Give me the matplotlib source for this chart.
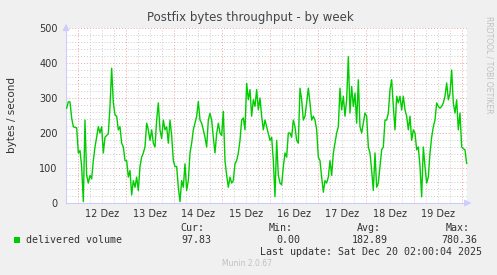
import matplotlib
matplotlib.use("Agg")
import matplotlib.pyplot as plt
import numpy as np

# delivered volume (bytes/s), one reading every 50 minutes
# first reading at Dec 11 18:20, hours counted from Dec 12 00:00
start_hour = -5.67
step_hour = 50.0 / 60.0
volume = [
    271, 289, 289, 243, 218, 216, 215, 143, 150, 104, 4, 237, 79, 57, 79, 69,
    121, 160, 188, 218, 200, 218, 143, 188, 193, 198, 276, 385, 286, 252, 248,
    209, 218, 171, 160, 121, 121, 74, 93, 23, 64, 45, 74, 36, 104, 131, 143,
    160, 228, 209, 179, 209, 171, 160, 237, 286, 209, 184, 237, 209, 218, 171,
    237, 193, 121, 104, 104, 45, 4, 64, 45, 112, 36, 64, 143, 171, 209, 228,
    248, 290, 237, 228, 209, 188, 160, 237, 256, 237, 188, 143, 198, 228, 200,
    193, 262, 121, 79, 45, 74, 57, 64, 112, 121, 143, 179, 237, 243, 209, 342,
    295, 324, 248, 295, 276, 324, 266, 300, 248, 209, 237, 218, 200, 179,
    188, 121, 18, 179, 79, 57, 52, 104, 143, 131, 200, 200, 188, 237, 218, 179,
    171, 328, 295, 237, 248, 286, 328, 286, 237, 248, 237, 209, 131, 121, 74,
    31, 64, 57, 74, 121, 79, 143, 171, 200, 218, 328, 266, 305, 248, 295, 418,
    257, 333, 276, 314, 228, 352, 218, 200, 228, 257, 248, 160, 143, 93, 36,
    143, 45, 57, 104, 152, 160, 237, 237, 257, 324, 352, 276, 209, 305, 286,
    305, 266, 305, 266, 248, 209, 248, 179, 209, 200, 152, 160, 104, 18, 160,
    104, 57, 74, 143, 188, 218, 237, 286, 276, 271, 276, 286, 305, 343, 295,
    314, 380, 286, 257, 295, 209, 257, 160, 155, 152, 113,
]
day_labels = ["12 Dez", "13 Dez", "14 Dez", "15 Dez", "16 Dez", "17 Dez", "18 Dez", "19 Dez"]
y_ticks = [0, 100, 200, 300, 400, 500]

cur_txt = "97.83"
min_txt = "0.00"
avg_txt = "182.89"
max_txt = "780.36"
update_txt = "Last update: Sat Dec 20 02:00:04 2025"

hours = start_hour + step_hour * np.arange(len(volume))

W, H = 497, 275
fig = plt.figure(figsize=(W / 100, H / 100), dpi=100, facecolor="#f0f0f0")
ax = fig.add_axes([66 / W, 1 - 203 / H, (467 - 66) / W, (203 - 28) / H])
ax.set_facecolor("white")

ax.set_xlim(-6, 194.5)
ax.set_ylim(0, 500)

# grid: minor gray, major red
for h in np.arange(-6, 195, 6):
    if h % 24 == 0:
        continue
    ax.axvline(h, color="#cccccc", lw=0.7, ls=(0, (1, 2)), zorder=1)
for v in range(20, 501, 20):
    if v % 100 == 0:
        continue
    ax.axhline(v, color="#cccccc", lw=0.7, ls=(0, (1, 2)), zorder=1)
for h in range(0, 195, 24):
    ax.axvline(h, color="#f0a0a0", lw=0.7, ls=(0, (1, 2)), zorder=1)
for v in y_ticks[1:]:
    ax.axhline(v, color="#f0a0a0", lw=0.7, ls=(0, (1, 2)), zorder=1)

ax.plot(hours, volume, color="#00cc00", lw=1.0, zorder=3, clip_on=False)

for s in ["top", "right"]:
    ax.spines[s].set_visible(False)
for s in ["left", "bottom"]:
    ax.spines[s].set_color("#ccccff")
    ax.spines[s].set_linewidth(0.8)

ax.set_xticks(range(12, 195, 24))
ax.set_xticklabels(day_labels)
ax.set_yticks(y_ticks)
ax.set_yticklabels([str(v) for v in y_ticks])
ax.tick_params(axis="both", length=0, labelsize=7, colors="#333333", pad=6)
ax.tick_params(axis="x", pad=4)

# arrows at the ends of the axes
ax.annotate("", xy=(1.018, 0), xytext=(0.99, 0), xycoords="axes fraction",
            arrowprops=dict(arrowstyle="-|>", color="#ccccff", lw=0.8), annotation_clip=False)
ax.annotate("", xy=(0, 1.04), xytext=(0, 0.99), xycoords="axes fraction",
            arrowprops=dict(arrowstyle="-|>", color="#ccccff", lw=0.8), annotation_clip=False)

fig.text(250 / W, 1 - 17 / H, "Postfix bytes throughput - by week", ha="center", va="center",
         fontsize=8.5, color="#444444")
fig.text(12 / W, 1 - 115 / H, "bytes / second", rotation=90, ha="center", va="center",
         fontsize=7.5, color="#333333")
fig.text(489 / W, 1 - 16 / H, "RRDTOOL / TOBI OETIKER", rotation=270, ha="center", va="top",
         fontsize=5.5, color="#c0c0c0")

mono = "DejaVu Sans Mono"
fs = 7.2
tc = "#333333"
fig.patches.append(plt.Rectangle((14 / W, 1 - 243 / H), 6 / W, 6 / H, transform=fig.transFigure,
                                 facecolor="#00cc00", edgecolor="none"))
fig.text(26 / W, 1 - 240 / H, "delivered volume", family=mono, fontsize=fs, color=tc, va="center")
fig.text(204 / W, 1 - 228 / H, "Cur:", family=mono, fontsize=fs, color=tc, va="center", ha="right")
fig.text(211 / W, 1 - 240 / H, cur_txt, family=mono, fontsize=fs, color=tc, va="center", ha="right")
fig.text(293 / W, 1 - 228 / H, "Min:", family=mono, fontsize=fs, color=tc, va="center", ha="right")
fig.text(300 / W, 1 - 240 / H, min_txt, family=mono, fontsize=fs, color=tc, va="center", ha="right")
fig.text(381 / W, 1 - 228 / H, "Avg:", family=mono, fontsize=fs, color=tc, va="center", ha="right")
fig.text(388 / W, 1 - 240 / H, avg_txt, family=mono, fontsize=fs, color=tc, va="center", ha="right")
fig.text(470 / W, 1 - 228 / H, "Max:", family=mono, fontsize=fs, color=tc, va="center", ha="right")
fig.text(477 / W, 1 - 240 / H, max_txt, family=mono, fontsize=fs, color=tc, va="center", ha="right")
fig.text(482 / W, 1 - 252 / H, update_txt, family=mono, fontsize=fs, color=tc, va="center", ha="right")
fig.text(247 / W, 1 - 264 / H, "Munin 2.0.67", fontsize=5.5, color="#c0c0c0", ha="center", va="center")

fig.savefig("out.png", dpi=100, facecolor=fig.get_facecolor())
